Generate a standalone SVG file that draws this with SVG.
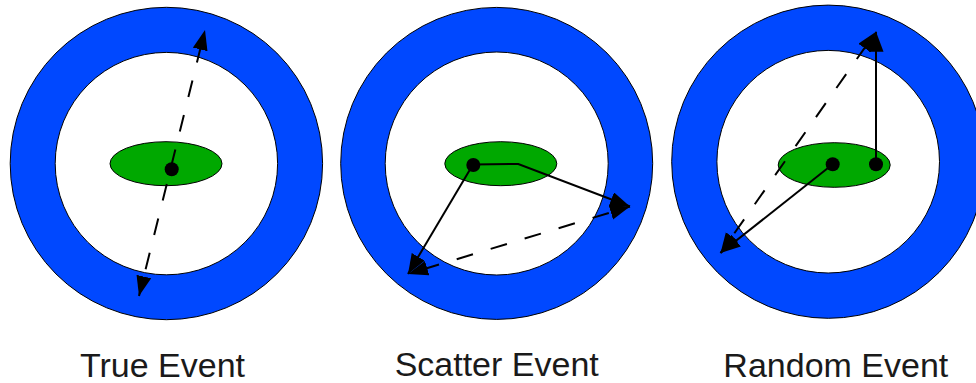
<svg xmlns="http://www.w3.org/2000/svg" width="976" height="383" viewBox="0 0 976 383">
<defs>
<style>
.outer{fill:#0048ff;stroke:#000;stroke-width:1}
.inner{fill:#fff;stroke:#000;stroke-width:1}
.nuc{fill:#00a800;stroke:#000;stroke-width:1}
.dot{fill:#000}
.sol{fill:none;stroke:#000;stroke-width:2;marker-end:url(#ah)}
.dash{fill:none;stroke:#000;stroke-width:2;stroke-dasharray:17 18.5;marker-start:url(#ahs);marker-end:url(#ah)}
.lbl{font-family:"Liberation Sans",Arial,sans-serif;font-size:34px;fill:#1a1a1a;text-anchor:middle}
</style>
<marker id="ah" markerUnits="userSpaceOnUse" markerWidth="22" markerHeight="16" refX="20" refY="7.5" orient="auto" viewBox="0 0 22 16">
<path d="M0,0 L20,7.5 L0,15 z" fill="#000"/>
</marker>
<marker id="ahs" markerUnits="userSpaceOnUse" markerWidth="22" markerHeight="16" refX="20" refY="7.5" orient="auto-start-reverse" viewBox="0 0 22 16">
<path d="M0,0 L20,7.5 L0,15 z" fill="#000"/>
</marker>
</defs>
<rect width="976" height="383" fill="#fff"/>

<g id="true-event">
<circle class="outer" cx="166.4" cy="163.5" r="156.2"/>
<circle class="inner" cx="166.4" cy="163.6" r="111.2"/>
<ellipse class="nuc" cx="166" cy="163.7" rx="56" ry="22"/>
</g>
<g id="scatter-event">
<circle class="outer" cx="496.7" cy="163.4" r="156"/>
<circle class="inner" cx="496.7" cy="163.5" r="111.5"/>
<ellipse class="nuc" cx="500.8" cy="163.7" rx="56" ry="22"/>
</g>
<g id="random-event">
<circle class="outer" cx="828.3" cy="161.7" r="156.6"/>
<circle class="inner" cx="828.2" cy="161.7" r="111.3"/>
<ellipse class="nuc" cx="834.2" cy="165" rx="56" ry="22.3"/>
</g>

<g id="connectors">
<path class="dash" d="M205,30 L139,296" stroke-dashoffset="18.9"/>
<path class="sol" d="M473,164.5 L518.3,164 L630,206.5"/>
<path class="sol" d="M473,164.5 L408,274"/>
<path class="dash" d="M408,274 L630,206.5" stroke-dashoffset="20.1"/>
<path class="sol" d="M876,164.3 L876,31.7"/>
<path class="sol" d="M832.7,164.3 L720.5,253"/>
<path class="dash" d="M720.5,253 L876,31.7" stroke-dashoffset="11.4"/>
</g>

<g id="dots">
<circle class="dot" cx="171.7" cy="169.2" r="7"/>
<circle class="dot" cx="473.3" cy="165" r="7"/>
<circle class="dot" cx="832.7" cy="164.3" r="7"/>
<circle class="dot" cx="876" cy="164.3" r="7"/>
</g>

<g id="labels">
<text class="lbl" x="162.5" y="376.5">True Event</text>
<text class="lbl" x="496.7" y="376">Scatter Event</text>
<text class="lbl" x="835.8" y="376.5">Random Event</text>
</g>
</svg>
